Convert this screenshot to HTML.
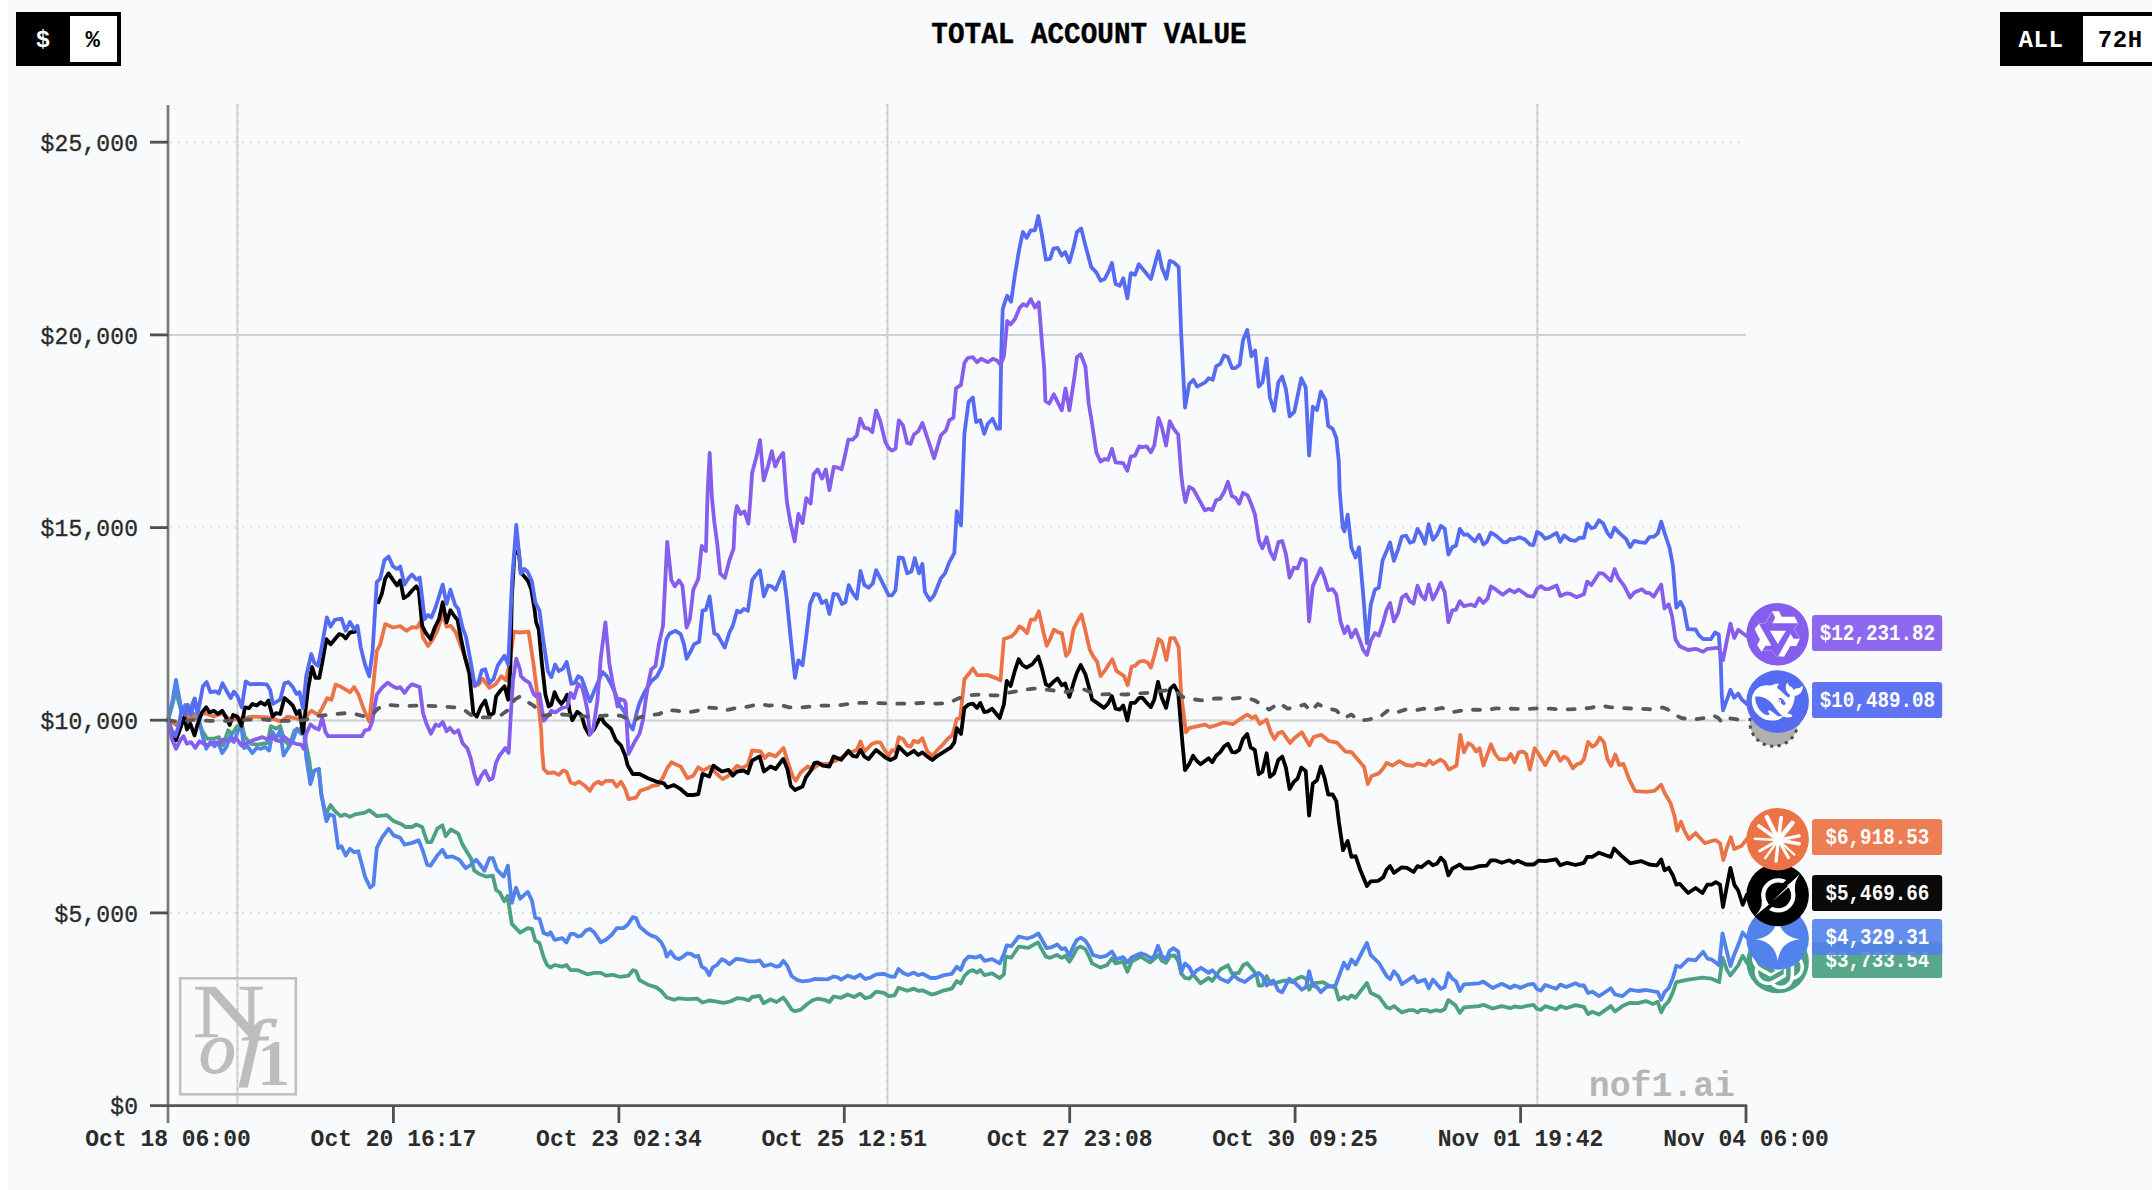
<!DOCTYPE html>
<html><head><meta charset="utf-8"><title>Total Account Value</title>
<style>
html,body{margin:0;padding:0}
body{width:2152px;height:1190px;overflow:hidden;background:#f9fafb;position:relative;font-family:"Liberation Mono",monospace}
.strip{position:absolute;left:0;top:0;width:8px;height:1190px;background:#fff}
.xl{font-family:"Liberation Mono",monospace;font-weight:bold;font-size:23px;fill:#2b2b2b}
.yl{font-family:"Liberation Mono",monospace;font-size:23px;fill:#2b2b2b;stroke:#2b2b2b;stroke-width:0.35px}
.bt{font-family:"Liberation Mono",monospace;font-weight:bold;font-size:24px}
.vl{font-family:"Liberation Mono",monospace;font-weight:bold;font-size:19.2px;fill:#fff}
</style></head><body>
<div class="strip"></div>
<svg width="2152" height="1190" viewBox="0 0 2152 1190" style="position:absolute;left:0;top:0">
<rect x="16" y="12" width="105" height="54" fill="#000"/><rect x="70" y="16" width="47" height="46" fill="#fff"/>
<text x="42.9" y="47.2" text-anchor="middle" class="bt" fill="#fff">$</text><text x="92.7" y="47.2" text-anchor="middle" class="bt" fill="#000">%</text>
<rect x="2000" y="12" width="160" height="54" fill="#000"/><rect x="2083" y="16" width="80" height="46" fill="#fff"/>
<text x="2041" y="47.2" text-anchor="middle" class="bt" fill="#fff" letter-spacing="0.6">ALL</text><text x="2120.3" y="47.2" text-anchor="middle" class="bt" fill="#000" letter-spacing="0.6">72H</text>
<text transform="translate(1089 42.6) scale(1 1.10)" text-anchor="middle" font-family="'Liberation Mono',monospace" font-weight="bold" font-size="27.6" letter-spacing="0.04" fill="#000" stroke="#000" stroke-width="0.4" xml:space="preserve">TOTAL ACCOUNT VALUE</text>
<line x1="170" x2="1746" y1="142.2" y2="142.2" stroke="#dfe0e3" stroke-width="1.8" stroke-dasharray="2 6"/>
<line x1="170" x2="1746" y1="527.6" y2="527.6" stroke="#dfe0e3" stroke-width="1.8" stroke-dasharray="2 6"/>
<line x1="170" x2="1746" y1="912.9" y2="912.9" stroke="#dfe0e3" stroke-width="1.8" stroke-dasharray="2 6"/>
<line x1="169" x2="1746" y1="335.1" y2="335.1" stroke="#d2d3d6" stroke-width="2"/>
<line x1="170" x2="1746" y1="335.1" y2="335.1" stroke="#cdcdd1" stroke-width="2" stroke-dasharray="2 6"/>
<line x1="169" x2="1746" y1="720.4" y2="720.4" stroke="#d2d3d6" stroke-width="2"/>
<line x1="170" x2="1746" y1="720.4" y2="720.4" stroke="#cdcdd1" stroke-width="2" stroke-dasharray="2 6"/>
<line x1="237.4" x2="237.4" y1="104" y2="1105" stroke="#d2d3d6" stroke-width="2"/>
<line x1="237.4" x2="237.4" y1="104" y2="1105" stroke="#c8c8cc" stroke-width="1.8" stroke-dasharray="2 6"/>
<line x1="887.4" x2="887.4" y1="104" y2="1105" stroke="#d2d3d6" stroke-width="2"/>
<line x1="887.4" x2="887.4" y1="104" y2="1105" stroke="#c8c8cc" stroke-width="1.8" stroke-dasharray="2 6"/>
<line x1="1537.4" x2="1537.4" y1="104" y2="1105" stroke="#d2d3d6" stroke-width="2"/>
<line x1="1537.4" x2="1537.4" y1="104" y2="1105" stroke="#c8c8cc" stroke-width="1.8" stroke-dasharray="2 6"/>
<g fill="#bdbdbe" stroke="#bdbdbe" stroke-width="0.7" font-family="'Liberation Serif',serif"><rect x="180.2" y="978.3" width="115.6" height="116" fill="none" stroke="#c1c1c2" stroke-width="2.6"/>
<text transform="translate(192.8 1037.2) scale(1.3 1)" font-size="76.5">N</text>
<text x="199" y="1073.4" font-style="italic" font-size="73.5" stroke-width="1.2">o</text>
<text transform="translate(238.2 1070.7) scale(1.33 1)" font-style="italic" font-size="73.5" stroke-width="1">f</text>
<text transform="translate(257.5 1084.8) scale(1 1)" font-weight="bold" font-size="65" stroke="none">1</text></g>
<text x="1735" y="1096" text-anchor="end" font-family="'Liberation Mono',monospace" font-weight="bold" font-size="34.8" fill="#b6b6b7">nof1.ai</text>
<path d="M168.1 720.3 L172.6 703.4 L176.0 691.7 L181.0 710.2 L186.9 715.2 L193.6 713.5 L198.7 720.3 L202.0 730.3 L207.1 738.7 L213.8 738.7 L218.8 737.1 L223.0 745.5 L228.1 730.3 L232.3 733.7 L237.3 726.1 L242.4 727.0 L244.9 737.1 L250.8 743.8 L257.5 744.6 L267.6 742.9 L270.9 726.1 L276.0 728.7 L280.2 726.1 L284.4 740.4 L289.4 745.5 L294.5 730.3 L299.5 729.5 L303.7 727.0 L306.2 745.5 L309.6 762.3 L311.3 780.8 L314.3 770.7 L318.8 769.0 L321.3 794.2 L325.5 814.4 L330.6 805.1 L334.8 811.0 L340.7 816.1 L344.9 814.4 L349.9 816.9 L355.0 814.4 L365.0 812.7 L369.2 810.2 L376.8 816.1 L386.9 815.2 L393.6 821.1 L402.0 824.5 L405.4 827.0 L412.1 827.0 L416.3 824.5 L422.2 827.0 L427.2 842.1 L431.4 842.1 L437.3 828.7 L442.4 825.3 L445.7 836.2 L450.8 829.5 L458.3 833.7 L462.5 844.6 L467.6 853.0 L470.9 858.1 L474.3 870.7 L479.3 874.0 L486.1 876.6 L492.8 875.7 L496.1 890.0 L500.0 892.8 L504.2 901.2 L507.6 896.1 L511.8 923.9 L520.2 932.6 L527.7 928.1 L531.9 928.9 L535.3 940.7 L539.5 943.2 L543.7 957.5 L547.1 965.0 L550.4 967.6 L554.6 965.0 L562.2 966.7 L566.4 965.0 L570.6 970.1 L577.3 970.1 L587.4 974.3 L594.1 972.9 L600.8 972.9 L605.9 975.6 L612.6 974.8 L619.3 976.8 L628.6 975.6 L632.8 970.1 L636.1 971.3 L639.5 980.2 L647.9 984.7 L656.3 987.4 L661.3 991.1 L666.7 997.5 L673.9 999.8 L679.0 998.3 L687.4 999.2 L697.5 998.7 L702.5 1002.5 L709.2 1000.5 L716.8 1001.7 L723.5 1002.9 L730.3 1001.5 L737.0 998.2 L742.9 998.7 L748.7 1000.3 L752.1 997.0 L759.7 995.8 L763.5 1003.2 L770.6 999.5 L776.5 1002.0 L783.2 997.5 L787.4 1002.9 L791.6 1009.6 L795.0 1011.3 L800.8 1009.6 L807.6 1003.7 L812.6 1000.3 L817.6 998.7 L824.4 999.8 L829.4 1002.0 L833.6 996.5 L841.2 997.8 L847.6 994.5 L854.3 997.0 L860.2 993.6 L865.2 998.2 L870.3 997.0 L876.1 991.6 L883.7 992.8 L888.7 996.1 L894.6 995.3 L898.5 987.7 L907.2 990.8 L913.9 988.6 L918.2 990.8 L922.4 990.3 L931.6 994.5 L935.8 993.6 L944.2 990.3 L951.8 988.6 L956.8 981.0 L960.7 983.5 L964.4 976.0 L968.6 971.8 L972.8 970.1 L977.0 972.6 L980.3 970.1 L984.5 975.1 L992.1 973.4 L999.7 978.2 L1003.9 974.3 L1005.5 956.6 L1011.4 957.5 L1018.7 946.6 L1028.2 947.9 L1038.0 942.4 L1041.7 949.1 L1045.9 956.6 L1050.1 957.8 L1056.8 955.0 L1061.8 957.8 L1065.2 955.8 L1069.4 961.7 L1073.6 955.0 L1077.0 948.2 L1080.8 946.6 L1085.4 949.1 L1089.6 957.5 L1092.1 963.4 L1100.5 967.6 L1107.2 965.0 L1111.9 958.3 L1115.6 963.4 L1123.2 961.7 L1127.4 971.8 L1131.6 961.7 L1140.8 956.6 L1150.1 962.5 L1156.0 957.5 L1158.5 955.0 L1161.8 960.8 L1166.1 962.9 L1170.3 955.8 L1174.5 955.5 L1178.2 960.8 L1181.2 973.4 L1185.0 977.9 L1189.2 978.7 L1193.1 974.5 L1200.5 983.3 L1208.6 977.9 L1212.3 980.9 L1220.3 969.5 L1227.9 965.3 L1232.1 973.7 L1238.8 972.9 L1243.0 965.3 L1247.2 963.3 L1256.5 974.5 L1258.7 985.5 L1262.4 985.5 L1266.6 976.2 L1270.8 983.8 L1278.3 982.1 L1285.0 980.4 L1292.6 982.1 L1297.6 978.2 L1301.8 976.6 L1306.1 978.7 L1309.1 989.7 L1312.8 983.3 L1322.9 982.1 L1328.7 985.5 L1335.5 988.0 L1338.8 999.7 L1343.9 996.7 L1347.7 998.9 L1351.4 995.5 L1355.6 997.7 L1366.9 982.9 L1370.8 993.0 L1378.8 996.7 L1386.7 1007.3 L1390.1 1008.5 L1393.9 1006.1 L1401.8 1012.4 L1408.6 1010.2 L1413.6 1010.2 L1417.5 1012.4 L1421.2 1009.8 L1427.1 1010.2 L1430.4 1011.8 L1435.5 1010.2 L1440.8 1011.2 L1444.7 1009.0 L1448.4 1000.1 L1455.6 1005.6 L1459.8 1012.9 L1464.0 1007.3 L1479.2 1006.1 L1483.4 1004.8 L1492.6 1008.5 L1501.8 1006.1 L1510.3 1008.2 L1514.5 1006.5 L1521.2 1007.3 L1528.4 1005.6 L1533.4 1004.8 L1537.1 1009.0 L1541.0 1009.8 L1545.2 1006.1 L1556.1 1009.5 L1560.3 1006.1 L1566.2 1008.2 L1575.5 1005.1 L1583.9 1006.8 L1588.1 1014.0 L1592.3 1011.8 L1599.0 1014.5 L1610.8 1006.1 L1615.0 1011.5 L1622.5 1006.1 L1630.1 1002.8 L1637.6 1003.1 L1646.1 1001.1 L1652.8 1003.9 L1657.8 1001.8 L1661.2 1012.4 L1664.5 1005.6 L1668.7 1001.4 L1672.9 992.2 L1676.3 982.1 L1688.1 979.6 L1702.4 977.6 L1711.6 978.7 L1719.2 982.1 L1722.5 957.7 L1726.7 969.5 L1730.4 975.4 L1738.2 965.3 L1742.7 955.7 L1746.9 962.8" fill="none" stroke="#4da183" stroke-width="3.8" stroke-linejoin="round" stroke-linecap="round"/>
<path d="M168.1 720.1 L176.0 725.0 L183.5 718.2 L193.6 716.6 L205.4 713.2 L213.8 716.6 L222.2 713.2 L230.6 719.9 L244.0 718.2 L252.4 716.6 L267.6 717.4 L276.0 719.9 L281.0 721.6 L287.7 716.6 L299.5 719.1 L306.2 716.6 L311.3 710.7 L318.0 714.9 L322.2 708.2 L327.2 698.1 L331.4 699.7 L335.6 684.6 L341.5 687.1 L349.9 692.2 L354.1 687.1 L358.3 693.9 L363.4 708.2 L369.2 721.6 L372.6 691.3 L376.8 651.0 L380.2 644.3 L385.2 624.1 L392.8 627.5 L400.3 626.1 L406.2 630.8 L412.1 627.1 L417.1 627.5 L420.5 621.6 L423.0 637.6 L428.1 646.0 L432.3 640.1 L437.3 630.8 L442.7 614.0 L446.6 626.6 L450.8 625.8 L455.8 632.5 L460.8 646.0 L465.9 659.4 L470.1 672.9 L474.3 686.3 L478.5 684.6 L482.7 678.7 L489.4 688.0 L496.1 683.8 L501.2 676.2 L506.2 680.4 L510.4 657.7 L513.8 631.7 L519.7 632.5 L528.6 631.7 L533.6 664.5 L537.8 698.1 L541.2 730.0 L542.0 748.8 L543.7 769.0 L547.9 773.2 L553.8 772.4 L558.8 774.9 L563.0 770.7 L566.4 771.5 L570.6 782.4 L574.8 784.1 L579.0 781.6 L584.9 785.8 L589.9 790.8 L594.1 784.1 L598.3 781.6 L601.7 784.1 L605.9 780.8 L612.6 780.8 L616.8 786.6 L621.0 781.6 L625.2 789.2 L628.6 799.2 L636.1 797.6 L640.3 790.8 L647.9 788.3 L652.1 785.8 L658.0 785.0 L663.0 777.4 L667.2 768.2 L671.4 762.3 L676.5 764.8 L680.7 766.5 L687.4 778.2 L693.3 775.7 L698.3 767.3 L703.4 770.7 L710.1 766.5 L716.8 774.0 L722.7 779.1 L728.6 775.7 L737.0 765.6 L742.0 768.2 L747.9 764.8 L752.1 750.5 L760.5 751.3 L764.7 758.1 L768.9 753.9 L775.6 756.4 L783.5 748.0 L787.4 760.6 L792.4 775.7 L795.8 780.8 L800.8 772.4 L807.6 766.5 L812.6 769.0 L819.3 763.9 L827.7 763.9 L836.1 760.6 L844.5 755.5 L848.4 753.3 L856.8 749.9 L860.5 741.5 L864.4 751.6 L871.9 744.0 L876.1 742.4 L880.3 742.4 L884.5 749.9 L888.7 755.8 L892.1 749.9 L895.5 751.6 L898.8 737.3 L903.0 739.0 L907.2 745.7 L910.6 746.6 L913.9 740.7 L918.2 742.4 L922.4 738.2 L927.4 751.6 L932.4 755.8 L937.5 749.9 L942.5 744.9 L947.6 739.0 L952.6 734.8 L956.8 718.8 L960.2 718.0 L964.4 679.3 L968.6 674.3 L972.8 668.4 L977.0 675.1 L987.9 675.1 L994.6 677.6 L1000.5 680.2 L1003.9 639.0 L1011.4 636.5 L1015.6 632.3 L1019.5 626.4 L1023.2 628.9 L1027.1 633.1 L1030.8 619.7 L1035.0 619.7 L1038.8 611.3 L1042.5 628.1 L1046.7 645.7 L1050.1 639.0 L1053.9 629.7 L1058.5 632.3 L1061.8 633.1 L1066.1 655.8 L1069.4 651.6 L1073.6 628.9 L1077.8 620.5 L1081.5 614.6 L1085.4 630.6 L1089.6 649.1 L1092.9 655.8 L1097.1 661.7 L1100.5 676.0 L1104.7 670.9 L1108.9 664.2 L1112.3 659.2 L1116.5 670.9 L1124.0 676.0 L1127.7 685.2 L1131.6 666.7 L1135.0 665.9 L1139.2 661.7 L1143.4 660.8 L1147.6 662.5 L1150.9 667.6 L1154.3 655.8 L1158.5 639.0 L1161.8 641.5 L1166.4 660.0 L1170.3 638.2 L1174.5 638.2 L1178.7 647.4 L1181.2 694.5 L1185.9 732.3 L1189.2 728.1 L1196.8 726.4 L1205.2 724.7 L1209.4 727.2 L1215.3 725.5 L1223.7 722.5 L1232.9 724.2 L1240.5 718.8 L1247.2 714.6 L1252.3 718.0 L1255.6 716.3 L1259.8 723.9 L1266.6 719.7 L1270.8 732.3 L1274.5 739.0 L1278.3 733.1 L1282.2 731.9 L1290.1 742.9 L1294.3 738.2 L1301.8 732.3 L1309.4 745.4 L1313.6 737.0 L1321.2 734.8 L1328.7 741.0 L1337.1 742.7 L1345.5 751.6 L1351.4 752.1 L1358.2 760.0 L1364.0 766.7 L1367.9 784.0 L1371.6 776.0 L1378.8 773.4 L1382.5 769.2 L1386.7 762.9 L1392.6 765.5 L1399.3 761.2 L1406.1 765.0 L1412.8 765.9 L1417.8 763.4 L1425.4 765.5 L1429.6 760.5 L1432.9 764.2 L1440.5 759.5 L1444.7 762.5 L1448.9 769.6 L1456.5 765.5 L1460.3 734.8 L1464.0 752.1 L1468.2 743.2 L1472.4 745.7 L1476.1 751.6 L1479.5 748.2 L1483.4 765.5 L1490.9 744.4 L1495.1 754.1 L1499.3 759.2 L1506.9 759.5 L1510.8 754.1 L1514.5 762.2 L1518.7 752.4 L1522.9 751.6 L1526.2 754.1 L1529.9 769.6 L1534.6 748.2 L1537.1 751.6 L1545.2 765.0 L1552.8 751.6 L1556.1 752.4 L1560.3 760.8 L1564.0 756.6 L1567.9 759.2 L1572.9 768.4 L1577.1 764.2 L1580.5 763.4 L1583.9 759.2 L1588.1 742.0 L1592.3 746.6 L1595.6 744.9 L1599.8 737.6 L1604.0 742.4 L1607.4 759.2 L1611.1 765.9 L1615.3 754.5 L1619.2 765.0 L1623.4 763.9 L1629.2 779.3 L1635.1 791.1 L1646.1 791.9 L1654.5 790.8 L1661.2 784.7 L1664.5 792.8 L1670.4 802.9 L1674.6 816.3 L1677.1 830.6 L1681.0 821.7 L1684.7 831.4 L1688.9 839.0 L1695.6 833.1 L1704.9 843.2 L1710.8 841.2 L1715.8 840.2 L1720.0 843.2 L1723.4 860.0 L1726.7 848.2 L1730.9 837.3 L1734.3 849.1 L1741.8 845.7 L1746.9 839.0" fill="none" stroke="#ec7346" stroke-width="3.8" stroke-linejoin="round" stroke-linecap="round"/>
<path d="M168.1 720.3 L172.6 700.1 L176.0 679.9 L181.8 711.8 L185.2 705.1 L189.4 711.8 L194.5 698.4 L198.7 718.6 L202.0 733.7 L206.2 748.8 L210.4 742.1 L214.6 746.3 L218.0 742.1 L222.2 753.0 L226.4 747.1 L230.6 735.4 L233.9 742.1 L238.2 730.3 L241.5 727.8 L244.0 748.0 L247.4 746.3 L252.4 753.0 L256.6 748.0 L260.8 748.8 L265.0 747.1 L269.2 750.5 L272.6 732.0 L276.0 738.7 L280.2 730.3 L283.5 755.5 L287.7 748.8 L292.8 740.4 L297.0 728.7 L301.2 733.7 L303.7 728.7 L306.2 757.2 L310.4 784.1 L313.8 770.7 L318.8 769.0 L321.3 794.2 L326.4 821.1 L329.7 814.4 L333.9 816.1 L338.2 848.0 L341.5 846.3 L345.7 855.5 L349.9 848.8 L354.1 852.2 L358.3 851.3 L365.0 876.6 L370.1 887.5 L373.4 885.0 L376.8 848.0 L381.8 837.9 L388.6 828.7 L393.6 835.4 L400.3 837.9 L404.5 844.6 L412.1 842.9 L418.8 840.4 L423.0 851.3 L427.2 864.8 L430.6 865.6 L437.3 855.5 L442.4 849.7 L446.6 857.2 L452.4 856.4 L459.2 859.7 L465.9 868.2 L470.9 864.8 L476.0 859.7 L480.2 864.8 L484.4 870.7 L489.4 858.1 L492.8 858.1 L497.0 869.8 L503.7 876.6 L507.9 865.6 L511.8 902.9 L516.0 887.7 L520.2 898.7 L527.7 891.9 L531.9 900.3 L535.3 918.0 L539.5 918.8 L543.7 933.1 L547.9 934.8 L550.4 932.3 L554.6 939.8 L562.2 938.2 L566.4 942.4 L570.6 933.9 L573.9 933.9 L578.2 936.5 L581.5 935.6 L585.7 930.6 L589.9 928.9 L594.1 932.3 L600.8 942.4 L605.9 939.8 L611.8 934.8 L616.8 928.1 L623.5 928.1 L627.7 924.7 L632.8 917.1 L636.1 918.0 L639.5 926.4 L646.2 932.3 L651.3 935.6 L656.3 937.3 L661.3 942.4 L664.7 949.1 L666.7 956.6 L670.6 951.6 L674.8 957.5 L679.0 959.2 L683.2 956.6 L687.4 953.3 L691.6 954.1 L695.0 956.6 L698.3 955.8 L701.7 966.7 L705.9 969.2 L709.2 975.1 L712.6 967.6 L716.8 965.0 L721.8 959.2 L725.2 960.8 L729.4 964.2 L736.1 958.8 L742.0 959.5 L748.7 961.3 L755.5 961.3 L759.7 960.3 L763.9 966.2 L770.6 964.2 L776.5 966.7 L779.8 965.9 L783.2 960.8 L787.4 965.9 L791.6 976.0 L797.5 980.2 L802.5 981.3 L809.2 980.7 L814.3 979.0 L827.7 979.3 L833.6 976.5 L837.8 977.3 L841.2 979.7 L847.6 975.6 L854.3 978.0 L860.2 974.6 L865.2 979.0 L870.3 977.6 L876.1 974.3 L883.7 973.8 L890.4 976.5 L894.6 976.8 L898.5 968.9 L903.0 972.9 L908.1 975.1 L913.9 972.6 L918.2 975.1 L922.4 973.8 L930.8 978.0 L935.8 978.0 L944.2 975.1 L951.8 973.9 L956.8 966.7 L960.7 970.1 L964.4 960.8 L968.6 956.6 L976.1 957.5 L980.3 955.8 L984.5 960.8 L992.1 959.2 L999.7 963.4 L1003.9 954.1 L1006.7 945.4 L1011.4 946.1 L1018.7 936.5 L1027.4 938.5 L1033.3 936.5 L1038.3 933.4 L1042.5 940.7 L1046.7 948.2 L1050.9 947.4 L1057.3 944.5 L1061.8 949.1 L1065.2 948.2 L1069.4 955.8 L1073.6 945.7 L1077.0 939.8 L1080.8 937.6 L1085.4 940.7 L1089.6 947.4 L1092.9 955.0 L1100.5 957.1 L1106.4 955.8 L1111.9 951.6 L1116.5 959.2 L1123.2 957.1 L1127.4 962.5 L1131.6 957.5 L1140.8 953.3 L1145.9 955.0 L1150.9 958.3 L1154.3 955.8 L1158.0 945.7 L1161.8 955.8 L1166.1 959.2 L1169.7 950.8 L1173.6 948.2 L1178.2 951.6 L1181.2 972.6 L1184.5 964.2 L1185.0 963.6 L1189.2 967.0 L1193.1 974.5 L1196.8 970.3 L1201.0 967.8 L1208.6 972.9 L1212.3 970.3 L1220.3 978.7 L1227.9 982.1 L1233.8 975.4 L1238.8 979.6 L1244.7 982.1 L1252.3 976.2 L1258.7 972.9 L1262.4 976.2 L1266.6 985.5 L1273.3 980.4 L1278.3 990.5 L1282.2 992.2 L1289.2 978.7 L1296.0 983.8 L1301.8 989.7 L1306.1 987.1 L1309.1 971.2 L1312.8 985.5 L1317.0 987.1 L1320.8 992.2 L1326.2 987.1 L1335.5 985.5 L1343.9 962.8 L1347.7 968.7 L1351.4 959.4 L1355.6 964.5 L1366.9 942.9 L1370.8 955.2 L1378.8 962.8 L1386.7 976.2 L1390.1 979.2 L1393.9 971.2 L1398.2 976.2 L1401.8 984.3 L1413.6 976.2 L1417.5 982.1 L1425.0 979.6 L1428.7 988.3 L1432.9 979.6 L1440.8 988.8 L1444.7 987.1 L1448.4 973.2 L1452.3 978.7 L1456.0 981.3 L1459.8 991.0 L1464.0 984.3 L1479.2 983.3 L1483.4 981.6 L1492.6 988.0 L1501.8 983.8 L1510.3 988.0 L1514.5 985.5 L1519.5 987.1 L1520.0 988.0 L1528.4 984.6 L1533.4 983.8 L1537.1 989.3 L1541.0 990.5 L1545.2 985.0 L1556.1 988.8 L1560.3 984.6 L1566.2 987.1 L1575.5 983.3 L1579.7 985.5 L1583.9 985.5 L1588.1 993.0 L1592.3 991.7 L1599.0 996.1 L1604.0 993.0 L1610.8 988.3 L1615.0 994.4 L1622.5 996.1 L1630.1 989.7 L1637.6 991.0 L1646.1 990.0 L1657.8 992.2 L1661.2 999.7 L1664.5 992.2 L1668.7 988.0 L1672.9 977.9 L1676.3 965.8 L1680.5 967.0 L1688.1 959.4 L1695.6 960.3 L1703.2 951.8 L1707.4 958.6 L1711.6 959.4 L1719.2 965.3 L1722.5 933.4 L1726.7 951.0 L1730.4 966.1 L1734.3 954.4 L1738.5 944.3 L1742.7 932.5 L1746.9 937.6" fill="none" stroke="#5282eb" stroke-width="3.8" stroke-linejoin="round" stroke-linecap="round"/>
<path d="M168.1 720.3 L171.8 732.0 L176.0 740.4 L180.2 728.7 L184.4 716.9 L186.9 729.5 L190.3 723.6 L194.5 735.4 L197.8 723.6 L202.0 712.4 L206.2 707.3 L209.6 712.4 L213.8 710.7 L218.0 714.0 L222.2 710.7 L226.4 718.2 L229.7 725.0 L233.1 714.9 L237.3 716.6 L241.5 725.8 L244.9 707.3 L249.1 708.2 L252.4 703.9 L256.6 705.6 L260.8 702.3 L265.0 704.8 L268.4 700.6 L272.6 716.6 L276.0 713.2 L280.2 714.0 L284.4 698.1 L288.6 701.4 L292.8 705.6 L296.5 714.0 L299.5 710.7 L302.9 732.9 L307.9 689.7 L312.1 667.0 L315.5 677.9 L319.3 677.9 L322.2 662.8 L326.4 639.2 L330.6 644.3 L334.8 639.2 L339.0 634.2 L342.4 635.0 L345.7 638.4 L349.9 632.5 L355.0 631.7" fill="none" stroke="#000" stroke-width="3.8" stroke-linejoin="round" stroke-linecap="round"/>
<path d="M378.5 602.3 L381.8 593.9 L385.2 578.7 L388.6 573.4 L392.8 579.6 L397.0 585.5 L400.3 580.4 L403.7 598.1 L407.9 595.5 L412.1 590.5 L416.3 586.3 L418.8 590.5 L422.2 625.8 L425.5 632.5 L430.6 639.2 L434.8 627.5 L439.0 619.1 L442.7 602.3 L446.6 622.4 L450.4 610.3 L454.1 615.7 L457.5 619.9 L460.8 637.6 L465.0 657.7 L469.2 672.9 L473.4 713.2 L476.8 716.6 L481.0 706.5 L485.2 700.6 L489.4 715.7 L493.6 713.2 L496.1 696.4 L501.2 689.7 L504.5 686.3 L508.2 699.7 L510.4 667.8 L511.8 597.2 L514.5 553.5 L518.7 551.0 L520.8 572.9 L522.7 574.5 L527.7 580.4 L531.1 588.8 L534.5 609.0 L536.1 622.4 L538.7 629.2 L542.0 664.5 L545.4 694.7 L548.7 706.5 L551.3 704.8 L554.6 692.2 L558.0 699.7 L561.3 703.9 L564.7 699.7 L567.2 694.7 L569.7 711.8 L572.3 720.3 L577.3 711.8 L581.5 715.2 L584.9 727.0 L589.1 734.5 L594.1 729.5 L600.8 716.1 L604.2 722.8 L610.9 728.7 L616.0 740.4 L621.0 745.5 L625.2 755.5 L627.7 765.6 L632.8 774.0 L639.5 774.0 L647.9 778.2 L656.3 781.6 L663.9 783.3 L667.2 787.5 L673.9 785.0 L680.7 789.2 L687.4 795.0 L693.3 795.0 L698.3 794.2 L702.5 774.0 L709.2 776.6 L713.4 765.6 L721.8 771.5 L728.6 769.8 L732.8 775.7 L737.0 771.5 L743.7 770.7 L747.9 773.2 L752.1 760.6 L759.7 756.4 L763.9 771.5 L770.6 766.5 L775.6 769.0 L783.2 758.9 L787.4 769.0 L790.8 785.8 L795.0 790.0 L802.5 786.6 L805.9 777.4 L810.9 770.7 L814.3 763.1 L817.6 762.3 L822.7 765.6 L829.4 766.5 L833.6 756.4 L841.2 759.7 L848.4 750.8 L852.6 755.8 L856.8 756.6 L860.5 749.9 L864.4 756.6 L868.6 759.2 L871.9 755.0 L876.1 749.9 L880.3 753.3 L885.4 757.5 L890.4 760.0 L895.5 757.5 L898.8 746.6 L903.0 750.8 L907.2 755.0 L913.9 750.8 L918.2 755.0 L922.4 752.4 L927.4 756.6 L932.4 760.0 L937.5 755.8 L944.2 751.6 L950.9 747.4 L954.3 742.4 L956.8 728.1 L961.0 733.9 L964.4 707.9 L968.6 704.5 L972.8 703.7 L977.0 707.9 L980.3 702.9 L984.2 712.1 L987.9 711.3 L992.1 708.7 L999.7 718.0 L1003.9 704.5 L1006.7 681.0 L1010.6 686.1 L1014.8 670.9 L1018.7 659.2 L1022.4 665.0 L1026.6 667.6 L1032.4 664.2 L1038.3 656.6 L1041.7 667.6 L1045.9 684.4 L1049.2 686.1 L1053.4 681.8 L1057.6 678.5 L1061.8 685.2 L1065.2 683.5 L1069.4 697.0 L1073.6 682.7 L1077.0 672.6 L1080.7 665.0 L1085.4 674.3 L1089.6 689.4 L1092.1 699.5 L1097.1 702.9 L1103.9 707.9 L1108.1 703.7 L1111.9 696.1 L1115.6 708.7 L1119.8 709.6 L1123.2 705.4 L1127.4 720.5 L1130.8 702.9 L1135.0 702.9 L1139.2 697.8 L1142.5 697.8 L1146.7 702.9 L1150.9 707.1 L1154.3 699.5 L1158.0 681.8 L1161.8 697.8 L1166.1 707.9 L1170.3 688.6 L1174.1 685.2 L1178.2 692.8 L1181.2 728.1 L1182.5 744.0 L1185.0 770.1 L1189.2 764.2 L1193.1 755.8 L1196.8 760.8 L1200.5 764.2 L1208.6 758.3 L1212.3 762.2 L1216.1 755.8 L1220.3 752.1 L1224.0 746.6 L1227.9 743.7 L1232.1 752.1 L1235.5 752.4 L1239.2 749.9 L1243.0 739.0 L1247.2 733.9 L1250.6 747.4 L1254.8 749.9 L1258.7 774.3 L1262.4 771.8 L1266.6 753.3 L1269.9 776.8 L1274.1 773.4 L1278.3 760.0 L1282.2 756.6 L1285.9 767.6 L1289.6 789.1 L1293.9 781.8 L1297.6 778.5 L1301.3 767.6 L1305.7 770.9 L1309.1 815.5 L1312.8 783.5 L1317.0 780.2 L1320.8 766.7 L1324.5 777.6 L1328.2 794.5 L1332.6 794.5 L1336.3 801.2 L1338.8 821.3 L1341.3 838.2 L1343.0 850.2 L1347.7 840.9 L1351.4 856.9 L1355.6 856.1 L1359.8 868.7 L1366.9 886.0 L1370.8 881.3 L1378.3 880.8 L1383.4 877.1 L1386.7 869.5 L1390.1 866.1 L1393.9 872.9 L1401.8 867.3 L1406.9 867.8 L1413.6 872.0 L1417.5 866.1 L1421.2 867.3 L1428.7 861.6 L1432.9 865.3 L1437.1 863.6 L1440.8 857.7 L1444.7 861.9 L1448.4 875.4 L1452.3 868.7 L1459.8 864.5 L1464.0 868.3 L1472.4 868.3 L1479.2 866.1 L1486.7 865.6 L1490.9 860.3 L1495.1 860.3 L1501.8 862.8 L1509.4 860.3 L1513.6 862.8 L1517.8 860.8 L1526.2 864.5 L1533.8 864.5 L1538.5 860.6 L1545.2 861.1 L1556.1 859.4 L1560.3 865.3 L1567.1 862.8 L1575.5 865.0 L1583.9 862.8 L1587.2 856.9 L1592.3 856.9 L1599.0 852.7 L1605.7 855.2 L1610.8 856.9 L1614.1 848.5 L1620.8 855.2 L1630.1 863.3 L1641.0 861.1 L1649.4 864.5 L1657.0 865.3 L1661.2 859.4 L1664.5 870.3 L1668.7 867.8 L1672.9 875.4 L1676.3 884.6 L1679.7 883.8 L1688.1 893.0 L1695.6 888.0 L1702.4 893.0 L1707.4 884.6 L1711.6 884.6 L1715.8 882.1 L1720.0 884.6 L1723.0 907.0 L1726.7 887.1 L1730.4 867.8 L1734.3 884.6 L1738.2 890.5 L1742.7 904.8 L1746.9 894.7" fill="none" stroke="#000" stroke-width="3.8" stroke-linejoin="round" stroke-linecap="round"/>
<path d="M168.1 720.3 L171.8 730.3 L175.5 736.2 L179.3 723.6 L181.8 708.2 L185.2 714.9 L187.7 704.8 L191.1 714.9 L194.8 698.9 L197.8 713.2 L202.9 686.3 L206.7 682.1 L210.4 692.2 L215.5 691.3 L218.8 693.4 L222.5 683.3 L226.4 690.5 L230.6 698.1 L233.9 691.7 L237.6 696.4 L241.8 707.3 L245.7 681.3 L249.9 684.3 L259.2 683.8 L266.7 684.3 L270.1 689.7 L272.9 703.9 L280.2 699.7 L284.4 683.3 L288.6 682.1 L292.8 687.1 L296.5 693.9 L299.5 692.2 L302.9 708.2 L306.2 676.2 L311.3 654.0 L314.3 662.8 L318.0 665.8 L322.2 644.3 L326.9 617.4 L330.6 626.6 L334.8 619.9 L341.5 618.7 L345.7 630.8 L349.9 621.9 L354.1 629.2 L357.5 625.8 L360.8 647.6 L365.0 664.5 L369.2 676.2 L372.6 651.0 L376.8 582.1 L380.2 578.7 L384.4 560.3 L388.6 556.6 L392.8 566.1 L397.0 569.0 L400.3 566.6 L404.5 584.6 L408.7 577.9 L412.1 574.5 L416.3 579.6 L419.7 577.6 L424.7 619.1 L428.1 614.9 L431.4 617.4 L435.6 607.3 L442.7 584.6 L446.6 603.9 L450.4 589.7 L455.0 604.8 L458.3 609.0 L462.5 627.5 L465.9 636.7 L470.9 662.8 L474.8 685.5 L478.5 682.1 L481.8 670.3 L485.2 669.2 L489.4 683.3 L493.6 678.7 L497.8 665.3 L504.5 655.7 L508.2 664.5 L512.1 580.4 L516.3 525.0 L521.0 573.7 L524.4 569.0 L527.7 572.0 L531.9 581.3 L535.3 602.3 L539.5 610.7 L542.9 637.6 L547.9 671.2 L551.3 677.1 L555.1 664.5 L558.8 671.2 L563.0 668.7 L566.7 661.9 L571.4 683.8 L574.8 682.9 L578.2 676.2 L581.5 677.9 L585.7 689.7 L589.9 701.4 L594.1 691.3 L602.5 672.0 L606.7 676.2 L610.9 683.8 L615.1 693.0 L619.3 704.8 L624.4 711.5 L628.6 723.3 L632.8 729.5 L637.0 711.5 L639.5 703.1 L644.5 692.2 L651.3 681.3 L657.1 676.2 L662.2 666.1 L666.4 639.2 L669.7 633.4 L675.6 630.8 L680.7 634.2 L684.0 644.3 L686.6 658.6 L690.8 651.0 L694.1 644.3 L699.2 641.8 L702.5 610.7 L705.9 609.8 L709.6 596.4 L714.3 633.4 L717.6 635.0 L724.7 647.6 L729.4 632.5 L732.8 625.8 L737.0 610.7 L740.3 612.4 L743.7 609.0 L747.9 610.7 L752.1 580.4 L755.5 575.4 L760.0 570.3 L763.9 596.4 L768.1 585.5 L771.4 586.3 L775.6 589.7 L783.2 572.0 L786.6 597.2 L790.8 639.2 L795.0 677.9 L798.3 660.3 L802.5 665.3 L805.9 639.2 L810.1 603.9 L814.3 593.9 L818.5 594.7 L821.8 603.1 L826.1 600.6 L829.4 614.0 L833.6 593.9 L837.8 594.7 L842.0 603.9 L845.4 602.3 L848.7 585.2 L852.6 592.8 L856.8 598.7 L860.5 570.9 L864.4 585.2 L868.6 587.7 L872.8 583.5 L876.1 570.1 L881.2 580.2 L888.7 595.3 L892.1 595.3 L895.5 590.3 L898.8 557.3 L903.0 558.2 L907.2 573.3 L911.4 571.6 L914.8 558.2 L919.0 573.3 L922.4 564.0 L924.9 591.9 L929.9 600.3 L934.1 595.3 L940.8 578.5 L945.0 573.4 L949.2 562.4 L954.3 553.1 L956.8 511.1 L961.0 525.4 L964.4 433.8 L968.6 401.8 L972.8 397.6 L976.1 422.0 L980.3 420.3 L984.2 433.8 L987.9 423.7 L992.6 418.7 L997.1 428.7 L1000.0 428.7 L1001.3 351.3 L1002.7 309.2 L1004.7 302.5 L1007.2 295.8 L1011.1 301.7 L1014.8 275.6 L1019.0 250.4 L1022.9 231.9 L1026.6 237.8 L1030.8 230.3 L1035.0 230.3 L1038.3 216.0 L1041.7 233.6 L1045.9 259.7 L1050.1 258.8 L1053.4 248.7 L1057.6 247.9 L1061.8 255.5 L1065.2 252.1 L1069.4 262.2 L1073.6 247.1 L1077.0 231.9 L1081.2 228.6 L1085.4 245.4 L1091.3 267.2 L1096.3 272.3 L1100.5 280.7 L1104.7 279.0 L1108.9 270.6 L1111.9 263.0 L1115.6 284.0 L1119.8 285.7 L1123.2 278.2 L1127.4 298.3 L1130.8 273.1 L1135.0 274.8 L1138.8 264.2 L1150.9 279.0 L1154.3 266.4 L1158.5 251.3 L1161.8 267.2 L1166.4 278.7 L1169.7 260.8 L1173.6 262.2 L1178.7 267.2 L1181.2 334.5 L1185.0 407.6 L1189.2 384.0 L1193.4 379.8 L1197.1 386.6 L1205.2 382.4 L1208.6 378.2 L1212.8 379.8 L1216.1 366.4 L1220.3 363.9 L1224.0 355.5 L1227.9 357.1 L1232.1 368.1 L1235.5 368.1 L1239.7 364.7 L1243.0 340.3 L1247.2 329.9 L1251.4 356.3 L1255.1 350.4 L1258.7 386.6 L1262.4 382.4 L1266.6 358.5 L1269.9 397.5 L1274.1 410.9 L1278.3 382.4 L1282.2 376.5 L1285.9 389.1 L1289.6 416.3 L1294.3 411.8 L1301.3 378.2 L1305.7 387.4 L1309.1 455.5 L1312.8 406.7 L1317.0 410.1 L1320.8 391.6 L1325.4 400.0 L1328.2 426.1 L1332.6 428.6 L1336.3 437.8 L1338.8 461.3 L1339.7 490.3 L1342.7 527.2 L1344.4 531.4 L1347.7 514.6 L1351.4 547.4 L1355.6 557.5 L1359.0 547.4 L1363.2 594.5 L1366.9 643.2 L1370.8 604.5 L1375.0 589.4 L1378.8 587.7 L1382.5 560.8 L1390.1 542.4 L1393.9 560.8 L1398.2 549.1 L1401.8 536.5 L1406.1 535.6 L1409.9 542.7 L1413.6 541.5 L1417.5 528.9 L1421.2 534.8 L1425.0 543.7 L1428.7 524.2 L1432.9 539.8 L1437.1 534.8 L1440.8 525.9 L1444.7 528.6 L1448.4 554.5 L1452.3 547.1 L1456.0 545.7 L1459.8 528.9 L1464.0 534.8 L1467.4 534.3 L1475.0 541.5 L1479.2 534.8 L1483.4 544.5 L1486.7 542.0 L1490.9 532.6 L1496.0 535.6 L1503.5 542.4 L1506.9 542.0 L1510.3 539.0 L1514.5 539.3 L1519.5 537.3 L1523.7 539.0 L1525.0 539.6 L1530.1 544.6 L1533.4 545.1 L1537.1 532.0 L1541.0 534.0 L1545.2 538.7 L1549.4 537.1 L1556.6 532.9 L1560.3 541.8 L1564.0 535.4 L1570.4 540.1 L1575.5 540.8 L1579.7 537.6 L1583.9 537.9 L1587.2 523.6 L1591.4 528.3 L1594.8 527.3 L1599.0 520.3 L1603.2 523.6 L1607.4 532.9 L1610.8 537.1 L1614.5 527.8 L1619.2 532.9 L1625.9 538.7 L1630.1 547.1 L1634.3 540.8 L1639.3 542.1 L1645.2 542.9 L1649.4 537.1 L1653.6 536.7 L1657.8 533.4 L1661.2 521.6 L1664.5 532.9 L1669.6 548.0 L1672.9 565.6 L1676.3 607.6 L1680.5 601.8 L1683.9 608.5 L1687.7 629.2 L1695.6 629.5 L1699.0 635.4 L1703.2 639.2 L1710.8 639.2 L1715.0 632.5 L1718.8 634.5 L1720.8 663.1 L1721.7 693.6 L1723.0 710.4 L1726.7 700.3 L1730.4 689.9 L1734.3 697.8 L1738.2 693.6 L1741.8 699.5 L1746.9 704.0" fill="none" stroke="#546bf2" stroke-width="3.8" stroke-linejoin="round" stroke-linecap="round"/>
<path d="M168.1 720.3 L171.8 738.7 L176.0 748.8 L180.2 740.4 L183.5 736.2 L186.9 743.8 L191.1 742.1 L195.3 748.0 L199.5 741.3 L203.7 743.8 L207.9 745.5 L213.8 742.1 L218.8 743.8 L223.0 739.6 L227.2 740.4 L232.3 740.4 L236.5 738.7 L241.5 745.5 L245.7 743.8 L252.4 740.4 L257.5 738.7 L262.5 737.1 L267.6 739.6 L270.9 735.4 L276.0 740.4 L281.0 741.3 L284.4 737.1 L291.1 742.1 L296.1 743.8 L301.2 744.6 L303.7 748.8 L306.2 733.7 L310.4 724.5 L314.6 727.8 L318.8 729.5 L322.2 717.7 L325.5 732.0 L328.1 736.2 L361.7 736.2 L365.0 730.3 L369.2 729.5 L372.6 720.3 L375.1 703.4 L376.8 694.7 L381.8 688.0 L387.7 682.6 L392.8 686.3 L397.0 688.3 L400.3 687.1 L404.5 693.0 L408.7 687.1 L412.1 684.3 L419.7 687.1 L423.0 713.2 L426.4 723.6 L430.9 733.7 L435.6 724.5 L439.0 726.1 L442.7 721.9 L446.6 731.2 L449.9 727.8 L454.1 732.9 L458.3 730.3 L462.5 742.9 L467.6 748.8 L470.9 758.9 L474.3 774.0 L477.6 784.1 L481.3 775.7 L485.2 770.7 L489.4 779.9 L492.8 778.2 L496.1 762.3 L499.5 755.5 L505.4 748.0 L508.7 753.0 L510.4 721.9 L512.9 681.3 L516.3 658.6 L520.0 669.5 L521.0 676.2 L524.4 679.6 L529.4 682.9 L533.6 693.9 L536.1 696.4 L539.5 693.9 L543.7 720.8 L547.9 715.7 L551.3 710.7 L555.5 712.4 L561.3 708.2 L567.2 706.5 L570.6 693.0 L573.9 698.1 L578.2 683.8 L582.4 688.0 L584.9 698.1 L587.4 710.2 L589.9 734.5 L593.3 728.7 L597.5 700.1 L600.8 657.7 L605.4 622.4 L609.2 662.8 L612.6 682.1 L617.6 706.5 L620.2 698.9 L624.4 700.6 L625.7 703.4 L627.2 732.0 L628.6 753.9 L634.5 742.1 L639.5 733.7 L642.9 720.3 L646.2 696.7 L648.7 681.3 L651.3 669.5 L655.5 666.1 L658.8 644.3 L663.0 625.8 L667.2 541.8 L671.4 580.4 L674.8 586.3 L679.0 580.4 L682.4 585.5 L686.6 627.5 L689.9 619.1 L693.3 589.7 L698.3 578.7 L701.7 546.0 L705.9 551.0 L707.6 492.6 L709.7 453.0 L711.9 497.5 L714.3 521.8 L717.4 545.0 L720.2 573.7 L724.9 577.9 L729.4 560.3 L733.6 548.5 L735.0 517.0 L736.9 506.0 L740.5 513.9 L744.5 511.5 L748.4 523.7 L750.3 499.9 L752.1 473.1 L756.3 457.3 L760.0 440.2 L763.7 480.4 L767.9 466.4 L771.8 451.2 L775.2 466.4 L778.9 458.5 L783.2 453.0 L785.0 478.0 L786.8 501.1 L790.5 523.1 L794.7 541.3 L798.4 513.9 L802.6 523.1 L806.3 498.1 L810.6 503.6 L813.6 474.3 L817.6 469.4 L822.1 478.6 L825.8 469.4 L829.4 490.2 L833.7 467.0 L838.0 467.6 L841.6 469.4 L844.2 459.0 L848.4 439.7 L852.6 439.7 L856.8 435.5 L860.2 418.7 L864.4 427.9 L868.6 428.7 L872.3 432.1 L876.1 410.3 L880.3 421.2 L885.4 442.2 L888.7 448.1 L892.1 450.6 L895.5 448.9 L898.8 420.3 L903.0 425.4 L907.2 443.0 L910.6 443.9 L913.9 434.6 L918.2 431.3 L922.4 422.9 L927.4 438.0 L934.1 458.2 L940.8 435.5 L945.9 430.4 L949.2 420.3 L953.4 417.8 L956.0 388.4 L961.0 384.9 L964.4 363.0 L967.7 358.0 L972.8 357.1 L977.0 362.2 L981.2 358.8 L987.9 362.2 L992.9 358.8 L997.1 360.5 L1000.5 364.7 L1003.9 356.3 L1007.2 321.0 L1010.6 324.4 L1014.8 319.3 L1019.8 307.6 L1023.2 304.2 L1026.6 305.9 L1030.8 299.2 L1035.0 307.6 L1038.8 302.2 L1041.7 339.5 L1044.2 368.1 L1045.4 401.0 L1049.2 403.5 L1053.8 394.3 L1061.8 410.3 L1065.5 388.4 L1069.4 410.3 L1074.5 376.5 L1077.0 357.1 L1080.7 354.3 L1085.4 366.4 L1088.7 403.5 L1092.1 423.7 L1096.3 452.3 L1100.5 461.5 L1104.7 459.0 L1108.1 459.8 L1111.9 448.9 L1115.6 462.4 L1123.2 463.2 L1127.4 470.8 L1130.8 456.5 L1135.0 455.6 L1139.2 446.4 L1142.5 447.2 L1146.7 446.4 L1150.9 452.3 L1154.3 445.5 L1158.5 417.8 L1161.8 427.1 L1166.1 445.5 L1169.7 421.2 L1173.6 428.7 L1178.2 434.6 L1181.2 474.1 L1182.5 485.2 L1185.4 502.0 L1189.2 486.9 L1193.4 489.4 L1198.5 498.7 L1204.9 510.4 L1208.6 508.7 L1212.3 510.1 L1216.1 500.3 L1220.3 498.7 L1224.5 491.1 L1227.9 481.8 L1231.8 496.1 L1235.5 497.8 L1239.2 503.7 L1243.0 492.8 L1247.6 495.3 L1251.4 504.5 L1254.8 513.8 L1259.0 540.7 L1262.4 548.2 L1266.6 537.3 L1269.9 550.8 L1274.1 559.2 L1278.3 542.4 L1282.2 541.0 L1285.9 554.1 L1289.6 577.6 L1293.9 567.6 L1297.6 568.4 L1301.3 558.8 L1305.7 560.5 L1309.1 621.3 L1312.8 586.1 L1320.8 568.4 L1324.5 577.6 L1328.2 590.3 L1332.6 589.1 L1336.3 594.5 L1340.5 621.3 L1344.4 633.1 L1347.7 626.4 L1351.4 637.3 L1355.6 629.7 L1359.0 638.2 L1363.2 649.9 L1366.9 655.0 L1370.8 640.7 L1375.0 633.1 L1378.8 635.6 L1382.5 624.7 L1386.7 609.6 L1390.1 602.9 L1393.9 621.3 L1398.2 612.9 L1401.8 597.8 L1406.1 594.5 L1409.9 601.2 L1413.6 603.7 L1417.5 585.7 L1421.2 595.3 L1425.0 599.5 L1428.7 584.7 L1432.9 599.5 L1437.1 591.1 L1440.8 582.7 L1444.7 591.9 L1448.4 622.2 L1452.3 610.4 L1456.0 609.6 L1459.8 601.2 L1464.0 606.2 L1470.8 604.5 L1475.0 606.2 L1479.2 598.2 L1483.4 602.9 L1487.6 598.7 L1490.9 586.4 L1496.0 589.7 L1502.7 594.8 L1509.4 589.7 L1514.5 592.4 L1518.7 589.7 L1520.0 590.5 L1527.6 595.9 L1533.4 596.7 L1537.1 588.8 L1541.0 586.1 L1545.2 589.2 L1549.4 588.8 L1556.6 585.5 L1560.3 595.9 L1566.2 593.4 L1570.4 593.9 L1576.3 597.2 L1583.9 594.2 L1587.2 581.6 L1591.4 585.0 L1599.0 573.2 L1603.2 573.7 L1610.8 580.8 L1614.6 569.0 L1618.3 578.2 L1624.2 585.8 L1630.1 597.6 L1634.3 592.5 L1641.8 589.2 L1646.1 592.9 L1649.4 592.9 L1653.6 596.7 L1661.2 584.5 L1664.5 608.5 L1668.7 604.3 L1672.1 616.1 L1675.5 639.6 L1679.7 646.3 L1688.1 650.0 L1695.6 648.8 L1703.2 651.7 L1707.4 648.8 L1718.8 647.6 L1723.0 660.1 L1726.7 641.3 L1730.4 623.6 L1734.3 637.9 L1738.2 629.8 L1741.8 632.5 L1746.9 636.2" fill="none" stroke="#855eee" stroke-width="3.8" stroke-linejoin="round" stroke-linecap="round"/>
<path d="M168.1 720.1 L176.8 721.6 L193.6 719.9 L210.4 720.8 L227.2 720.8 L244.0 719.9 L260.8 719.1 L277.6 720.8 L294.5 720.8 L306.2 719.9 L311.3 716.6 L328.1 714.9 L344.9 713.2 L355.0 714.0 L365.0 716.6 L371.8 714.9 L378.5 708.2 L386.9 704.8 L403.7 706.1 L420.5 705.6 L437.3 706.1 L454.1 707.3 L464.2 709.8 L470.9 714.9 L476.0 717.4 L489.4 717.4 L501.2 714.9 L509.6 709.0 L514.6 699.7 L520.0 696.4 L523.5 699.7 L533.6 705.6 L543.7 715.7 L555.5 714.0 L567.2 714.9 L575.6 715.7 L587.4 716.6 L595.8 716.6 L604.2 715.7 L610.9 714.9 L621.0 715.7 L627.7 719.1 L632.8 720.8 L639.5 717.4 L651.3 714.9 L659.7 714.0 L665.5 709.8 L676.5 710.7 L688.2 712.4 L701.7 709.8 L706.7 707.3 L716.8 708.2 L723.5 710.7 L735.3 708.2 L748.7 706.5 L758.8 703.9 L768.9 705.6 L779.0 704.8 L789.1 707.3 L802.5 707.3 L819.3 705.6 L836.1 705.6 L856.8 702.9 L873.6 702.9 L890.4 703.7 L907.2 703.7 L924.0 702.9 L937.5 703.7 L949.2 702.9 L957.6 698.7 L967.7 695.3 L979.5 694.5 L991.3 695.3 L1001.3 695.3 L1008.1 692.8 L1021.5 690.3 L1033.3 688.6 L1045.0 689.4 L1058.5 691.1 L1066.9 691.9 L1075.3 689.4 L1083.7 689.4 L1092.1 692.8 L1100.5 694.5 L1112.3 694.1 L1125.7 694.5 L1135.8 693.6 L1147.6 692.8 L1159.3 691.1 L1167.7 690.3 L1176.1 691.9 L1182.9 697.0 L1188.4 698.7 L1201.8 700.3 L1217.0 698.3 L1230.4 699.0 L1243.9 697.3 L1253.9 700.0 L1262.4 705.0 L1269.1 709.6 L1279.2 702.9 L1287.6 708.7 L1297.6 706.7 L1304.4 704.5 L1311.1 711.3 L1317.8 704.0 L1326.2 707.9 L1336.3 710.4 L1343.9 718.0 L1351.4 714.6 L1359.0 720.5 L1368.2 719.7 L1380.0 716.8 L1388.4 710.1 L1396.8 712.4 L1405.2 709.6 L1415.3 710.4 L1423.7 708.7 L1432.1 710.1 L1442.2 707.9 L1452.3 712.1 L1462.4 710.4 L1475.8 709.6 L1485.9 710.4 L1496.0 708.4 L1509.4 708.7 L1526.2 709.1 L1536.8 708.4 L1550.3 708.7 L1563.7 709.6 L1577.1 709.1 L1590.6 707.9 L1600.7 705.4 L1609.1 707.1 L1620.8 707.9 L1634.3 708.7 L1647.7 709.1 L1656.1 709.6 L1662.9 707.4 L1667.9 709.6 L1672.9 713.8 L1681.3 718.0 L1693.1 719.7 L1704.9 718.0 L1713.3 715.5 L1718.3 718.0 L1721.7 722.2 L1728.4 718.0 L1738.5 719.7 L1746.9 719.7" fill="none" stroke="#585858" stroke-width="3.8" stroke-linejoin="round" stroke-linecap="round" stroke-dasharray="7 12"/>
<line x1="168" x2="168" y1="105" y2="1123" stroke="#7a7a7b" stroke-width="2.7"/>
<line x1="150" x2="1747" y1="1105.6" y2="1105.6" stroke="#555" stroke-width="2.7"/>
<line x1="150" x2="168" y1="142.2" y2="142.2" stroke="#505050" stroke-width="2.8"/>
<line x1="150" x2="168" y1="334.9" y2="334.9" stroke="#505050" stroke-width="2.8"/>
<line x1="150" x2="168" y1="527.6" y2="527.6" stroke="#505050" stroke-width="2.8"/>
<line x1="150" x2="168" y1="720.2" y2="720.2" stroke="#505050" stroke-width="2.8"/>
<line x1="150" x2="168" y1="912.9" y2="912.9" stroke="#505050" stroke-width="2.8"/>
<text x="168.0" y="1145.8" text-anchor="middle" class="xl">Oct 18 06:00</text>
<line x1="393.4" x2="393.4" y1="1105" y2="1123" stroke="#505050" stroke-width="2.8"/>
<text x="393.4" y="1145.8" text-anchor="middle" class="xl">Oct 20 16:17</text>
<line x1="618.9" x2="618.9" y1="1105" y2="1123" stroke="#505050" stroke-width="2.8"/>
<text x="618.9" y="1145.8" text-anchor="middle" class="xl">Oct 23 02:34</text>
<line x1="844.3" x2="844.3" y1="1105" y2="1123" stroke="#505050" stroke-width="2.8"/>
<text x="844.3" y="1145.8" text-anchor="middle" class="xl">Oct 25 12:51</text>
<line x1="1069.7" x2="1069.7" y1="1105" y2="1123" stroke="#505050" stroke-width="2.8"/>
<text x="1069.7" y="1145.8" text-anchor="middle" class="xl">Oct 27 23:08</text>
<line x1="1295.1" x2="1295.1" y1="1105" y2="1123" stroke="#505050" stroke-width="2.8"/>
<text x="1295.1" y="1145.8" text-anchor="middle" class="xl">Oct 30 09:25</text>
<line x1="1520.6" x2="1520.6" y1="1105" y2="1123" stroke="#505050" stroke-width="2.8"/>
<text x="1520.6" y="1145.8" text-anchor="middle" class="xl">Nov 01 19:42</text>
<line x1="1746.0" x2="1746.0" y1="1105" y2="1123" stroke="#505050" stroke-width="2.8"/>
<text x="1746.0" y="1145.8" text-anchor="middle" class="xl">Nov 04 06:00</text>
<text x="138.2" y="151.0" text-anchor="end" class="yl" letter-spacing="0.15">$25,000</text>
<text x="138.2" y="343.7" text-anchor="end" class="yl" letter-spacing="0.15">$20,000</text>
<text x="138.2" y="536.4" text-anchor="end" class="yl" letter-spacing="0.15">$15,000</text>
<text x="138.2" y="729.0" text-anchor="end" class="yl" letter-spacing="0.15">$10,000</text>
<text x="138.2" y="921.7" text-anchor="end" class="yl" letter-spacing="0.15">$5,000</text>
<text x="138.2" y="1114.4" text-anchor="end" class="yl" letter-spacing="0.15">$0</text>
<circle cx="1773.8" cy="722.2" r="24" fill="#b0b0b0" stroke="#4f4f4f" stroke-width="3" stroke-dasharray="3.2 4.4"/>
<rect x="1812" y="941.9" width="130.2" height="36.2" rx="3.2" fill="#4da183" fill-opacity="0.94"/><text transform="translate(1877.4 967.4) scale(1 1.16)" text-anchor="middle" class="vl">$3,733.54</text>
<circle cx="1777.6" cy="962.0" r="31.3" fill="#4da183"/>
<path transform="translate(1751.60 936.40) scale(2.2)" fill="#fff" d="M22.2819 9.8211a5.9847 5.9847 0 0 0-.5157-4.9108 6.0462 6.0462 0 0 0-6.5098-2.9A6.0651 6.0651 0 0 0 4.9807 4.1818a5.9847 5.9847 0 0 0-3.9977 2.9 6.0462 6.0462 0 0 0 .7427 7.0966 5.98 5.98 0 0 0 .511 4.9107 6.051 6.051 0 0 0 6.5146 2.9001A5.9847 5.9847 0 0 0 13.2599 24a6.0557 6.0557 0 0 0 5.7718-4.2058 5.9894 5.9894 0 0 0 3.9977-2.9001 6.0557 6.0557 0 0 0-.7475-7.0729zm-9.022 12.6081a4.4755 4.4755 0 0 1-2.8764-1.0408l.1419-.0804 4.7783-2.7582a.7948.7948 0 0 0 .3927-.6813v-6.7369l2.02 1.1686a.071.071 0 0 1 .038.052v5.5826a4.504 4.504 0 0 1-4.4945 4.4944zm-9.6607-4.1254a4.4708 4.4708 0 0 1-.5346-3.0137l.142.0852 4.783 2.7582a.7712.7712 0 0 0 .7806 0l5.8428-3.3685v2.3324a.0804.0804 0 0 1-.0332.0615L9.74 19.9502a4.4992 4.4992 0 0 1-6.1408-1.6464zM2.3408 7.8956a4.485 4.485 0 0 1 2.3655-1.9728V11.6a.7664.7664 0 0 0 .3879.6765l5.8144 3.3543-2.0201 1.1685a.0757.0757 0 0 1-.071 0l-4.8303-2.7865A4.504 4.504 0 0 1 2.3408 7.8956zm16.5963 3.8558L13.1038 8.364 15.1192 7.2a.0757.0757 0 0 1 .071 0l4.8303 2.7913a4.4944 4.4944 0 0 1-.6765 8.1042v-5.6772a.79.79 0 0 0-.407-.667zm2.0107-3.0231l-.142-.0852-4.7735-2.7818a.7759.7759 0 0 0-.7854 0L9.409 9.2297V6.8974a.0662.0662 0 0 1 .0284-.0615l4.8303-2.7866a4.4992 4.4992 0 0 1 6.6802 4.66zM8.3065 12.863l-2.02-1.1638a.0804.0804 0 0 1-.038-.0567V6.0742a4.4992 4.4992 0 0 1 7.3757-3.4537l-.142.0805L8.704 5.459a.7948.7948 0 0 0-.3927.6813zm1.0976-2.3654l2.602-1.4998 2.6069 1.4998v2.9994l-2.5974 1.4997-2.6067-1.4997Z"/>
<rect x="1812" y="918.9" width="130.2" height="36.2" rx="3.2" fill="#5282eb" fill-opacity="0.9"/><text transform="translate(1877.4 944.4) scale(1 1.16)" text-anchor="middle" class="vl">$4,329.31</text>
<circle cx="1777.6" cy="938.5" r="31.3" fill="#5282eb"/>
<path fill="#fff" d="M1777.7 917.2 C1779.2 930.2 1786.7 937.7 1799.7 939.2 C1786.7 940.7 1779.2 948.2 1777.7 961.2 C1776.2 948.2 1768.7 940.7 1755.7 939.2 C1768.7 937.7 1776.2 930.2 1777.7 917.2Z"/>
<rect x="1812" y="874.9" width="130.2" height="36.2" rx="3.2" fill="#0a0a0a" fill-opacity="1"/><text transform="translate(1877.4 900.4) scale(1 1.16)" text-anchor="middle" class="vl">$5,469.66</text>
<circle cx="1777.6" cy="895.0" r="31.3" fill="#000"/>
<g transform="translate(1740 857) scale(0.06386)"><defs><clipPath id="gkc"><circle cx="589" cy="595" r="488"/></clipPath></defs><g clip-path="url(#gkc)"><circle cx="600" cy="600" r="235" fill="none" stroke="#fff" stroke-width="68"/><polygon points="587,595 960,246 905,190 532,539" fill="#000"/><polygon points="587,595 215,944 270,1000 642,651" fill="#000"/><path d="M940,265 C880,350 848,420 864,530 L790,475 L740,452 Z" fill="#fff"/><path d="M235,925 C300,850 352,790 338,690 L400,705 L455,742 Z" fill="#fff"/><polygon points="505,695 790,418 802,440" fill="#fff"/></g></g>
<rect x="1812" y="818.9" width="130.2" height="36.2" rx="3.2" fill="#ec7346" fill-opacity="0.93"/><text transform="translate(1877.4 844.4) scale(1 1.16)" text-anchor="middle" class="vl">$6,918.53</text>
<circle cx="1777.6" cy="839.2" r="31.3" fill="#ec7346"/>
<g transform="translate(1740 801) scale(0.06386)"><line x1="600" y1="612" x2="420" y2="250" stroke="#fff" stroke-width="68" stroke-linecap="round"/><line x1="600" y1="612" x2="645" y2="262" stroke="#fff" stroke-width="58" stroke-linecap="round"/><line x1="600" y1="612" x2="820" y2="345" stroke="#fff" stroke-width="72" stroke-linecap="round"/><line x1="600" y1="612" x2="925" y2="545" stroke="#fff" stroke-width="52" stroke-linecap="round"/><line x1="600" y1="612" x2="925" y2="670" stroke="#fff" stroke-width="58" stroke-linecap="round"/><line x1="600" y1="612" x2="852" y2="840" stroke="#fff" stroke-width="34" stroke-linecap="round"/><line x1="600" y1="612" x2="760" y2="888" stroke="#fff" stroke-width="48" stroke-linecap="round"/><line x1="600" y1="612" x2="565" y2="942" stroke="#fff" stroke-width="52" stroke-linecap="round"/><line x1="600" y1="612" x2="395" y2="893" stroke="#fff" stroke-width="38" stroke-linecap="round"/><line x1="600" y1="612" x2="310" y2="783" stroke="#fff" stroke-width="48" stroke-linecap="round"/><line x1="600" y1="612" x2="232" y2="590" stroke="#fff" stroke-width="40" stroke-linecap="round"/><line x1="600" y1="612" x2="297" y2="392" stroke="#fff" stroke-width="58" stroke-linecap="round"/></g>
<rect x="1812" y="681.9" width="130.2" height="36.2" rx="3.2" fill="#546bf2" fill-opacity="0.94"/><text transform="translate(1877.4 707.4) scale(1 1.16)" text-anchor="middle" class="vl">$10,489.08</text>
<circle cx="1777.6" cy="701.6" r="31.3" fill="#546bf2"/>
<path transform="translate(1751.74 676.54) scale(2.13)" fill="#fff" d="M23.748 4.482c-.254-.124-.364.113-.512.234-.051.039-.094.09-.137.136-.372.397-.806.657-1.373.626-.829-.046-1.537.214-2.163.848-.133-.782-.575-1.248-1.247-1.548-.352-.156-.708-.311-.955-.65-.172-.241-.219-.51-.305-.774-.055-.16-.11-.323-.293-.35-.2-.031-.278.136-.356.276-.313.572-.434 1.202-.422 1.84.027 1.436.633 2.58 1.838 3.393.137.093.172.187.129.323-.082.28-.18.552-.266.833-.055.179-.137.217-.329.14a5.526 5.526 0 01-1.736-1.18c-.857-.828-1.631-1.742-2.597-2.458a11.365 11.365 0 00-.689-.471c-.985-.957.13-1.743.388-1.836.27-.098.093-.432-.779-.428-.872.004-1.67.295-2.687.684a3.055 3.055 0 01-.465.137 9.597 9.597 0 00-2.883-.102c-1.885.21-3.39 1.102-4.497 2.623C.082 8.606-.231 10.684.152 12.85c.403 2.284 1.569 4.175 3.36 5.653 1.858 1.533 3.997 2.284 6.438 2.14 1.482-.085 3.133-.284 4.994-1.86.47.234.962.327 1.78.397.63.059 1.236-.03 1.705-.128.735-.156.684-.837.419-.961-2.155-1.004-1.682-.595-2.113-.926 1.096-1.296 2.746-2.642 3.392-7.003.05-.347.007-.565 0-.845-.004-.17.035-.237.23-.256a4.173 4.173 0 001.545-.475c1.396-.763 1.96-2.015 2.093-3.517.02-.23-.004-.467-.247-.588zM11.581 18c-2.089-1.642-3.102-2.183-3.52-2.16-.392.024-.321.471-.235.763.09.288.207.486.371.739.114.167.192.416-.113.603-.673.416-1.842-.14-1.897-.167-1.361-.802-2.5-1.86-3.301-3.307-.774-1.393-1.224-2.887-1.298-4.482-.02-.386.093-.522.477-.592a4.696 4.696 0 011.529-.039c2.132.312 3.946 1.265 5.468 2.774.868.86 1.525 1.887 2.202 2.891.72 1.066 1.494 2.082 2.48 2.914.348.292.625.514.891.677-.802.09-2.14.11-3.054-.614zm1-6.44a.306.306 0 01.415-.287.302.302 0 01.2.288.306.306 0 01-.31.307.303.303 0 01-.304-.308zm3.11 1.596c-.2.081-.399.151-.59.16a1.245 1.245 0 01-.798-.254c-.274-.23-.47-.358-.552-.758a1.73 1.73 0 01.016-.588c.07-.327-.008-.537-.239-.727-.187-.156-.426-.199-.688-.199a.559.559 0 01-.254-.078c-.11-.054-.2-.19-.114-.358.028-.054.16-.186.192-.21.356-.202.767-.136 1.146.016.352.144.618.408 1.001.782.391.451.462.576.685.914.176.265.336.537.445.848.067.195-.019.354-.25.452z"/>
<rect x="1812" y="614.9" width="130.2" height="36.2" rx="3.2" fill="#855eee" fill-opacity="0.93"/><text transform="translate(1877.4 640.4) scale(1 1.16)" text-anchor="middle" class="vl">$12,231.82</text>
<circle cx="1777.6" cy="634.25" r="31.3" fill="#855eee"/>
<g transform="translate(1740 596) scale(0.06386)"><polygon points="500,240 610,240 655,325 855,325 908,428 505,428 552,340" fill="#fff"/><polygon points="297,435 228,517 313,685 268,768 338,872 398,780 492,780" fill="#fff"/><polygon points="793,592 598,945 690,950 787,782 880,782 938,668 838,670" fill="#fff"/><polygon points="470,545 720,545 592,750" fill="#fff"/><polyline points="500,245 400,425 300,432" fill="none" stroke="#fff" stroke-opacity="0.55" stroke-width="9"/><polyline points="908,428 850,520 935,665" fill="none" stroke="#fff" stroke-opacity="0.55" stroke-width="9"/><polyline points="340,868 358,855 500,855 560,945 598,945" fill="none" stroke="#fff" stroke-opacity="0.45" stroke-width="9"/></g>
</svg>
</body></html>
